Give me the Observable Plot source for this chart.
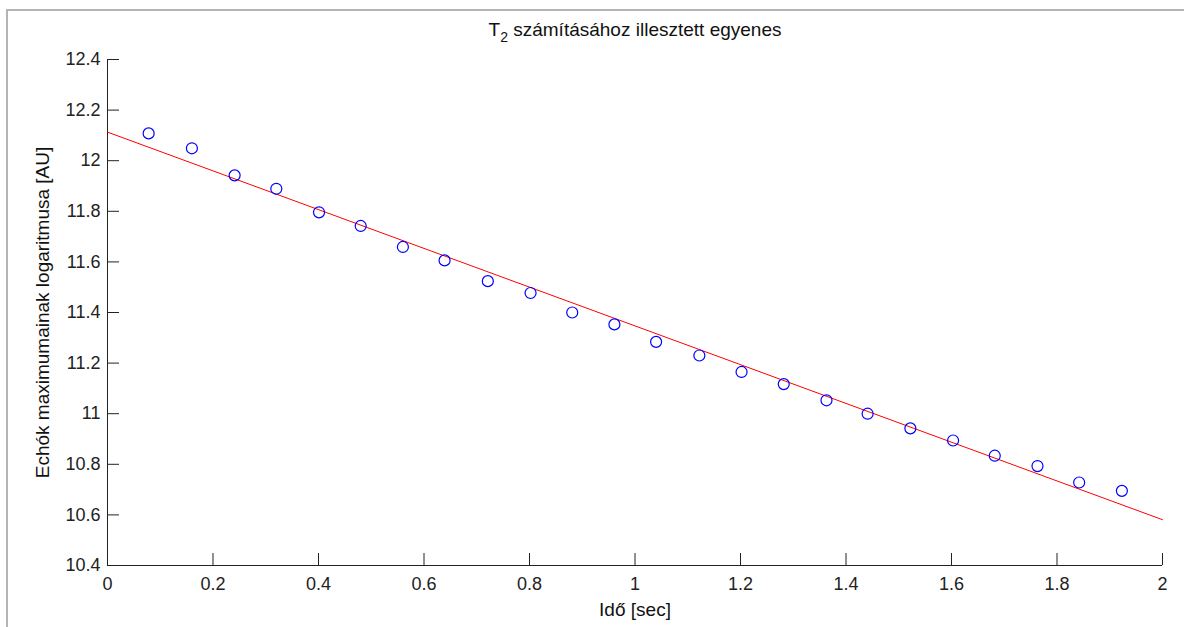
<!DOCTYPE html>
<html>
<head>
<meta charset="utf-8">
<script src="https://cdn.jsdelivr.net/npm/d3@7"></script>
<script src="https://cdn.jsdelivr.net/npm/@observablehq/plot@0.6"></script>
<style>
  html, body { margin: 0; padding: 0; background: #fff; }
  #wrap { position: relative; width: 1184px; height: 627px; overflow: hidden; }
  #border { position: absolute; left: 6px; top: 9px; width: 1300px; height: 800px;
            border-left: 2px solid #b4b4b4; border-top: 2px solid #b4b4b4; }
  #chart { position: absolute; left: 0; top: 0; }
</style>
</head>
<body>
<div id="wrap"><div id="border"></div><div id="chart"></div></div>
<script>
// Measured echo times (s) and log of echo maxima
const timeSec = [0.078, 0.160, 0.241, 0.320, 0.401, 0.480, 0.560, 0.639, 0.721, 0.802, 0.881, 0.961,
                 1.040, 1.122, 1.202, 1.282, 1.363, 1.441, 1.522, 1.603, 1.682, 1.763, 1.842, 1.923];
const logMax  = [12.108, 12.049, 11.942, 11.889, 11.796, 11.742, 11.659, 11.606, 11.524, 11.477, 11.400, 11.353,
                 11.284, 11.230, 11.165, 11.117, 11.053, 11.000, 10.942, 10.894, 10.834, 10.793, 10.728, 10.695];
// Fitted straight line endpoints
const fitTime = [0, 2];
const fitLog  = [12.113, 10.581];

const xTicks = [0, 0.2, 0.4, 0.6, 0.8, 1, 1.2, 1.4, 1.6, 1.8, 2];
const xTickLabels = ["0", "0.2", "0.4", "0.6", "0.8", "1", "1.2", "1.4", "1.6", "1.8", "2"];
const yTicks = [10.4, 10.6, 10.8, 11, 11.2, 11.4, 11.6, 11.8, 12, 12.2, 12.4];
const yTickLabels = ["10.4", "10.6", "10.8", "11", "11.2", "11.4", "11.6", "11.8", "12", "12.2", "12.4"];

const titleSub = "2";
const titleRest = " számításához illesztett egyenes";
const titleText = "T" + titleSub + titleRest;
const xLabel = "Idő [sec]";
const yLabel = "Echók maximumainak logaritmusa [AU]";

const points = timeSec.map((t, i) => ({t, v: logMax[i]}));
const fit = fitTime.map((t, i) => ({t, v: fitLog[i]}));

const chart = Plot.plot({
  width: 1184,
  height: 627,
  marginLeft: 107,
  marginRight: 22,
  marginTop: 59,
  marginBottom: 62,
  style: { fontFamily: "'Liberation Sans', Arial, Helvetica, sans-serif", background: "transparent", color: "#222" },
  x: { domain: [0, 2] },
  y: { domain: [10.4, 12.4] },
  marks: [
    Plot.ruleX([0], { stroke: "#222", strokeWidth: 1 }),
    Plot.ruleY([10.4], { stroke: "#222", strokeWidth: 1 }),
    Plot.axisX(xTicks, { tickSize: -12, tickPadding: 24, tickFormat: (d, i) => xTickLabels[i], fontSize: 18, label: null, stroke: "#222" }),
    Plot.axisY(yTicks, { tickSize: -12, tickPadding: 19, tickFormat: (d, i) => yTickLabels[i], fontSize: 18, label: null, stroke: "#222" }),
    Plot.line(fit, { x: "t", y: "v", stroke: "red", strokeWidth: 1 }),
    Plot.dot(points, { x: "t", y: "v", r: 5.5, stroke: "blue", strokeWidth: 1.2, fill: "none" }),
    Plot.text([xLabel], { text: d => d, frameAnchor: "bottom", lineAnchor: "top", dy: 37, fontSize: 19, fill: "#111" }),
    Plot.text([yLabel], { text: d => d, frameAnchor: "left", textAnchor: "middle", rotate: -90, dx: -65, fontSize: 19, fill: "#111" }),
    Plot.text([titleText], { text: d => d, frameAnchor: "top", lineAnchor: "bottom", dy: -24, fontSize: 19, fill: "#111" })
  ]
});
document.getElementById("chart").appendChild(chart);

// Render the subscript in the title
d3.select(chart).selectAll("text").filter(function() { return this.textContent === titleText; })
  .each(function() {
    const t = d3.select(this);
    t.text(null);
    t.append("tspan").text("T");
    t.append("tspan").attr("dy", 6).attr("font-size", 14).text(titleSub);
    t.append("tspan").attr("dy", -6).text(titleRest);
  });
</script>
</body>
</html>
